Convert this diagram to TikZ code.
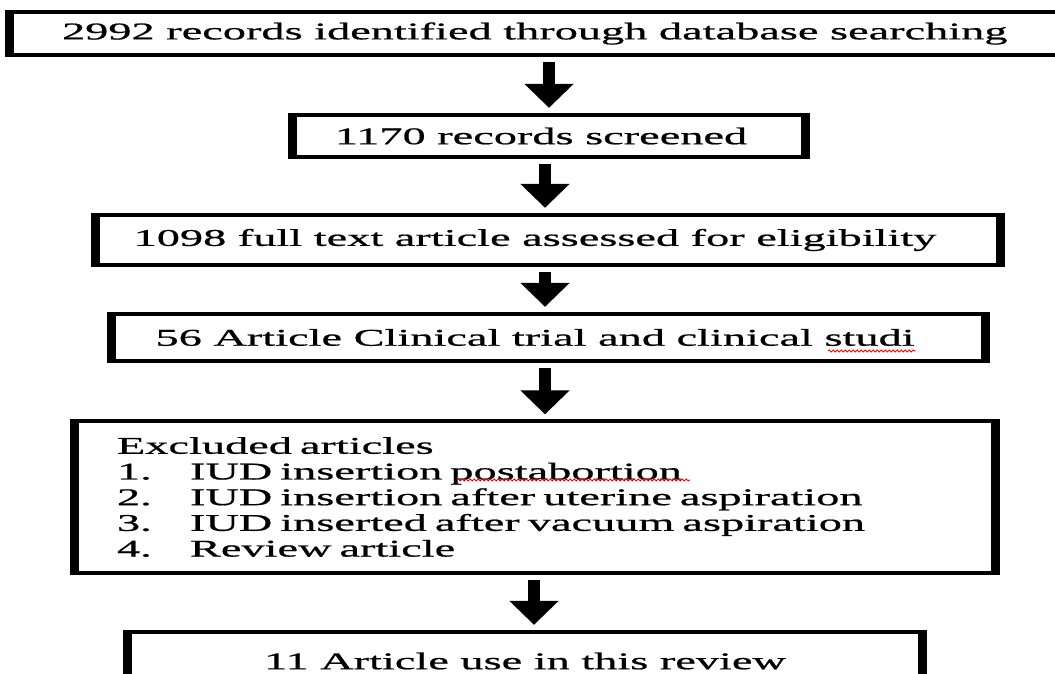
\documentclass[tikz,border=0pt]{standalone}
\usepackage{fontspec}
\setmainfont[FakeStretch=1.93,FakeBold=0.8]{Liberation Serif}
\usetikzlibrary{arrows.meta,decorations.pathmorphing}
\begin{document}
\begin{tikzpicture}[x=1pt,y=-1pt,
  box/.style={inner sep=0pt, font=\fontsize{24}{25.7}\selectfont},
  hside/.style={line width=4pt},
  vside/.style={line width=9pt},
  blockarrow/.style={line width=12pt, -{Triangle[length=24pt,width=48pt]}, shorten <=7pt, shorten >=7pt},
  spell/.style={red, line width=0.9pt, decorate, decoration={snake, amplitude=1pt, segment length=4pt}}]
\useasboundingbox (0,0) rectangle (1055,673);
\node[box, minimum width=1050.5pt, minimum height=43pt] (b1) at (534.75,33.5) {2992 records identified through database searching};
\node[box, minimum width=513pt, minimum height=42pt] (b2) at (549,136) {\hspace*{-16pt}1170 records screened};
\node[box, minimum width=905pt, minimum height=50pt] (b3) at (548,240) {\hspace*{-26pt}1098 full text article assessed for eligibility};
\node[box, minimum width=874pt, minimum height=47pt] (b4) at (548.5,337.5) {\hspace*{-27pt}56 Article Clinical trial and clinical studi};
\node[box, minimum width=921pt, minimum height=151pt, text width=836pt, inner xsep=42.5pt, align=left] (b5) at (535,497) {Excluded articles\\
\makebox[73pt][l]{1.}IUD insertion postabortion\\
\makebox[73pt][l]{2.}IUD insertion after uterine aspiration\\
\makebox[73pt][l]{3.}IUD inserted after vacuum aspiration\\
\makebox[73pt][l]{4.}Review article};
\node[box, minimum width=795pt, minimum height=58pt] (b6) at (525,661) {11 Article use in this review};
\foreach \n in {b1,b2,b3,b4,b5,b6}{
  \draw[hside] ([xshift=-4.5pt]\n.north west) -- ([xshift=4.5pt]\n.north east)
               ([xshift=-4.5pt]\n.south west) -- ([xshift=4.5pt]\n.south east);
  \draw[vside] ([yshift=2pt]\n.north west) -- ([yshift=-2pt]\n.south west)
               ([yshift=2pt]\n.north east) -- ([yshift=-2pt]\n.south east);
}
\coordinate (x1) at (549,0);
\coordinate (x2) at (545,0);
\coordinate (x3) at (534,0);
\draw[blockarrow] (x1 |- b1.south) -- (x1 |- b2.north);
\draw[blockarrow] (x2 |- b2.south) -- (x2 |- b3.north);
\draw[blockarrow] (x2 |- b3.south) -- (x2 |- b4.north);
\draw[blockarrow] (x2 |- b4.south) -- (x2 |- b5.north);
\draw[blockarrow] (x3 |- b5.south) -- (x3 |- b6.north);
\draw[spell] (457,480) -- (690,480);
\draw[spell] (828,351) -- (916,351);
\end{tikzpicture}
\end{document}
